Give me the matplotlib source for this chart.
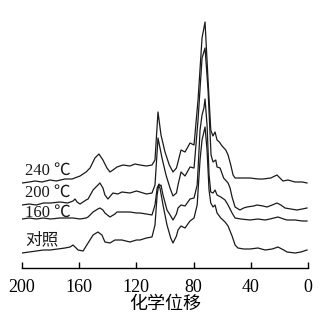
import numpy as np
import matplotlib
matplotlib.use("Agg")
import matplotlib.pyplot as plt

plt.rcParams['font.family'] = ['Liberation Serif', 'Noto Sans CJK SC', 'DejaVu Sans']

# chemical shift (ppm) and intensity above each trace's own baseline
ppm_240 = [200, 195, 190.9, 186, 180.4, 176, 170, 165, 159.4, 155.2, 152.4, 149, 146.2, 143.4,
           140.6, 138.5, 136.4, 133.6, 129.4, 124.5, 121, 117.5, 113, 109.1, 107, 104.9, 102.8,
           100, 97, 94.4, 92, 90.9, 88.8, 86, 82.5, 79.7, 76.9, 74.1, 72, 69.9, 68, 66.5, 65,
           63.6, 62, 60.1, 57.5, 55.9, 54, 52.4, 51, 47, 40.6, 35, 31.5, 26, 21.7, 17.5, 14,
           9.1, 4, 0.7]
int_240 = [-2, -1, 0, -1, 1, 0, 2, 2, 5, 9, 13, 23, 27, 21,
           13, 9, 11, 14, 16, 15, 17, 16, 15, 16, 21, 69, 46,
           29, 16, 9, 13, 19, 31, 29, 38, 36, 81, 143, 159, 101, 51, 45, 49,
           41, 39, 35, 31, 26, 16, 6, 3, 3, 3, 2, 2, 3, 6, 0, 1,
           -1, -1, -2]

ppm_200 = [200, 195, 190, 185, 180, 173.4, 168, 164.3, 162.9, 161.5, 159.4, 155.2, 153.8, 150.3,
           146.9, 145.5, 143.4, 142, 139.9, 136.4, 133, 130.1, 124.5, 120, 117.5, 113, 109.1, 107,
           104.9, 102.1, 99.3, 96.5, 94.4, 92, 90.9, 88.8, 86, 82.5, 79.7, 76.9, 74.1, 72, 69.9,
           67.8, 66.4, 64.5, 63.6, 61.5, 59, 55.9, 54.5, 53.1, 51, 47.6, 45, 42.7, 38, 35.7,
           31.5, 28.7, 25, 21.7, 19, 16.1, 12, 7.7, 4, 0.7]
int_200 = [0, 1, 0, 2, 2, 3, 2, 4, 6, 3, 1, 5, 6, 15,
           20, 22, 17, 10, 6, 12, 11, 13, 12, 14, 13, 11, 12, 20,
           67, 47, 30, 17, 9, 12, 20, 33, 29, 38, 37, 85, 147, 157, 115,
           50, 43, 45, 38, 37, 27, 22, 17, 8, -2, -5, -3, -2, -1, 0,
           -1, -2, 0, 2, 0, -3, -4, -5, -4, -3]

ppm_160 = [200, 195, 190, 185, 180, 173.4, 168, 164.3, 159.4, 155.2, 153.8, 150.3, 147, 145.5,
           143.4, 142, 138.5, 135, 133.6, 130, 124.5, 120, 117.5, 113, 109.1, 107, 105.5, 104.2,
           103.5, 102.8, 101.4, 98.6, 96, 94.4, 92, 90.9, 88.8, 86, 82.5, 79.7, 77.5, 76.9, 75.5,
           74.1, 72.8, 72, 70.6, 69.2, 68, 66.4, 65, 63.6, 61, 58, 55.9, 53.1, 51, 47, 40.6, 35,
           30, 26.6, 21, 17, 14.7, 9, 4, 0.7]
int_160 = [0, 1, 0, 1, 0, 1, 1, 1, 0, 1, 2, 7, 10, 11,
           9, 6, 2, 5, 7, 7, 7, 6, 6, 5, 4, 14, 31, 35,
           33, 34, 24, 9, 3, -1, 5, 11, 14, 13, 20, 21, 34, 49, 89,
           104, 111, 120, 94, 44, 27, 26, 29, 24, 22, 19, 14, 6, 1, 0, -1, 0,
           -1, 0, 2, 0, -1, -1, -2, -2]

ppm_ck = [200, 195, 190, 185, 180.4, 175, 169.9, 166.4, 164.3, 162.9, 160.8, 157.3, 153.8, 150.3,
          146.9, 144.1, 142, 138.5, 135, 130.1, 124.5, 120, 117.5, 113, 109.1, 107, 105.5, 104.5,
          103.5, 101.4, 98.6, 96, 94.4, 92, 90.9, 88.8, 86, 82.5, 79.7, 77.5, 75.5, 74.1, 72,
          70.6, 69.2, 68, 66.4, 65, 63.6, 61, 58, 55.9, 53.1, 51, 49, 45, 40.6, 35, 30, 25, 21,
          17, 14.7, 9, 5, 0.7]
int_ck = [-3, -2, -1, 0, 0, 1, 2, 3, 5, 3, 0, -1, 7, 15,
          18, 15, 8, 7, 10, 10, 8, 10, 10, 12, 13, 25, 55, 64,
          62, 45, 25, 12, 7, 14, 20, 24, 22, 29, 32, 45, 90, 110, 123,
          100, 60, 47, 43, 45, 37, 32, 28, 24, 14, 5, 2, 1, 1, 2, 0, 1, 3,
          0, -2, -3, -2, 0]

names = ['240 ℃', '200 ℃', '160 ℃', '对照']
offsets = [87, 63, 49, 18]
label_dy = [10, 12, 6, 10]

fig = plt.figure(figsize=(3.35, 3.2), dpi=100)
ax = fig.add_axes([22 / 335, 52 / 320, 286 / 335, 258 / 320])

spectra = [(ppm_240, int_240), (ppm_200, int_200), (ppm_160, int_160), (ppm_ck, int_ck)]
for (x, y), off, name, dy in zip(spectra, offsets, names, label_dy):
    ax.plot(x, np.array(y) + off, color='#1a1a1a', lw=0.9)
    ax.text(198, off + dy, name, fontsize=12, va='center', ha='left', color='#1a1a1a')

ax.set_xlim(200, 0)
ax.set_ylim(0, 258)
for s in ['left', 'right', 'top']:
    ax.spines[s].set_visible(False)
ax.spines['bottom'].set_linewidth(1.0)
ax.set_yticks([])
ax.set_xticks([200, 160, 120, 80, 40, 0])
ax.tick_params(axis='x', direction='in', length=4, width=1, pad=8, labelsize=13)
ax.set_xlabel('化学位移', fontsize=13, family=['Noto Sans CJK SC'], labelpad=-1)

fig.savefig('out.png', dpi=100)
